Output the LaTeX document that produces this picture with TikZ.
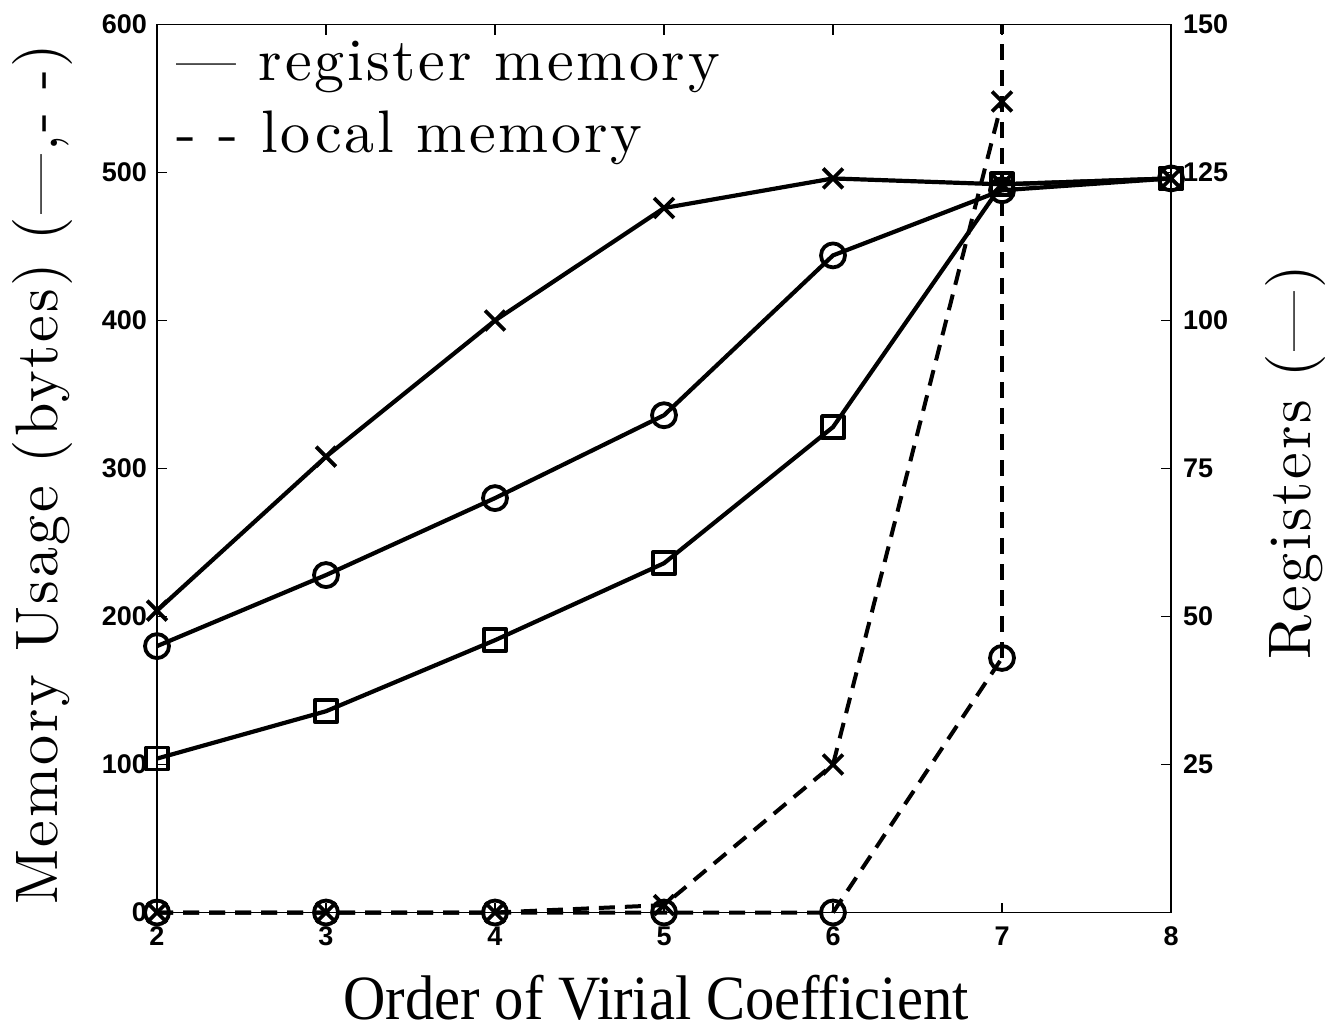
\documentclass[tikz,border=0pt]{standalone}
\usepackage{fontspec}
\usetikzlibrary{plotmarks}
\newfontfamily\helv{Liberation Sans}
\newfontfamily\tms{Liberation Serif}
\newfontfamily\lmten{lmroman10-regular.otf}[LetterSpace=4.5]
\begin{document}
\begin{tikzpicture}[x=1pt,y=-1pt,
  axisline/.style={line width=1.8pt, line cap=rect},
  tickline/.style={line width=1.2pt},
  ticklab/.style={font=\helv\bfseries\fontsize{27}{30}\selectfont, inner sep=1pt},
  bigtext/.style={font=\lmten\fontsize{60}{66}\selectfont, inner sep=0pt},
  solidline/.style={line width=4.2pt, line join=round},
  dashline/.style={line width=4pt, line join=round, dash pattern=on 16pt off 10pt},
  mk/.style={mark options={solid, line width=3.8pt}},
]
\useasboundingbox (0,0) rectangle (1327,1029);

\begin{scope}[shift={(-181,912.5)}, x=169pt, y=1.48pt]
  % axes box
  \draw[axisline] (2,0) rectangle (8,600);
  \foreach \v in {3,...,7} {
    \draw[tickline] (\v,0) -- ++(0pt,10pt);
    \draw[tickline] (\v,600) -- ++(0pt,-10pt);
  }
  \foreach \b in {100,200,...,500} {
    \draw[tickline] (2,\b) -- ++(10pt,0pt);
    \draw[tickline] (8,\b) -- ++(-10pt,0pt);
  }
  % tick labels
  \foreach \b in {0,100,...,600}
    \node[ticklab, anchor=east, xshift=-9pt] at (2,\b) {\b};
  \foreach \r in {25,50,75,100,125,150}
    \node[ticklab, anchor=west, xshift=11pt] at (8,{4*\r}) {\r};
  \foreach \v in {2,...,8}
    \node[ticklab, anchor=north, yshift=-13pt] at (\v,0) {\v};

  % local memory (dashed)
  \draw[dashline] (7,172) -- (7,600);
  \draw[dashline, mk, mark=o, mark size=12pt] plot coordinates {(2,0) (3,0) (4,0) (5,0) (6,0) (7,172)};
  \draw[dashline, mk, mark=x, mark size=14pt] plot coordinates {(2,0) (3,0) (4,0) (5,5) (6,100) (7,548)};

  % register memory (solid)
  \draw[solidline, mk, mark=x, mark size=14pt] plot coordinates {(2,204) (3,308) (4,400) (5,476) (6,496) (7,492) (8,496)};
  \draw[solidline, mk, mark=o, mark size=12pt] plot coordinates {(2,180) (3,228) (4,280) (5,336) (6,444) (7,488) (8,496)};
  \draw[solidline, mk, mark=square, mark size=11pt] plot coordinates {(2,104) (3,136) (4,184) (5,236) (6,328) (7,492) (8,496)};
\end{scope}

% legend
\node[bigtext, anchor=base west] (leg1) at (176,80) {— register memory};
\node[bigtext, anchor=base west] (leg2) at (176,152) {- - local memory};

% axis labels
\node[bigtext, rotate=90, anchor=base west] (ylab) at (57,905) {Memory Usage (bytes) (—,- -)};
\node[bigtext, rotate=90, anchor=base west] (rlab) at (1310,660) {Registers (—)};
\node[font=\tms\fontsize{63}{70}\selectfont, inner sep=0pt, xscale=0.93, anchor=base] (xlab) at (656,1019) {Order of Virial Coefficient};
\end{tikzpicture}
\end{document}
